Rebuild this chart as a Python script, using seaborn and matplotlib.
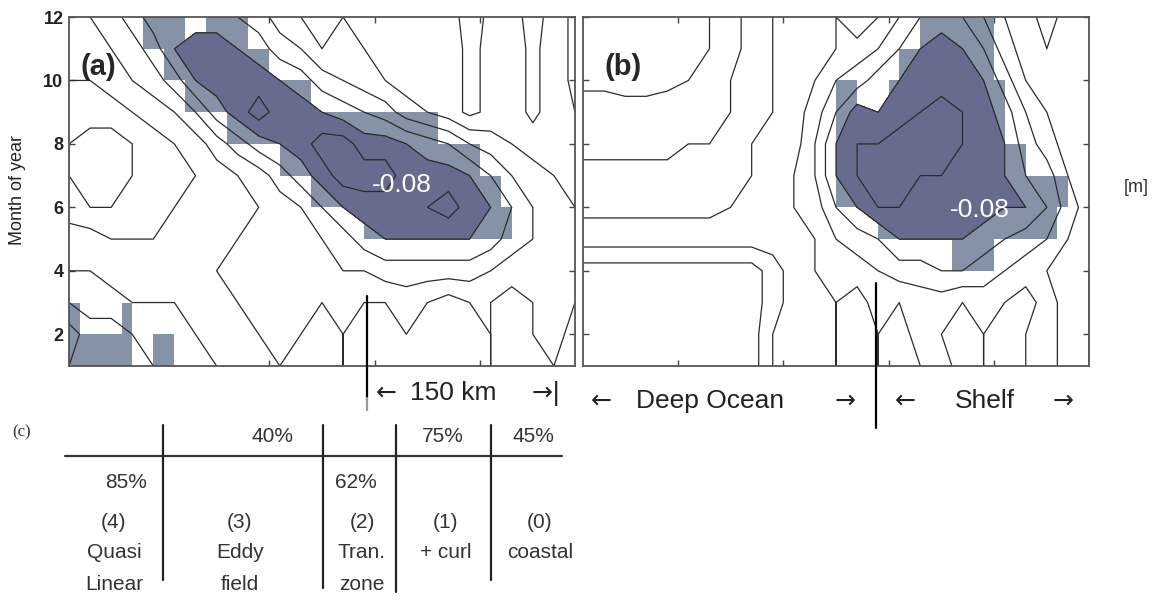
import numpy as np
import matplotlib
matplotlib.use("Agg")
import matplotlib.pyplot as plt
from matplotlib.colors import ListedColormap
import seaborn as sns

sns.set_theme(style="white")
plt.rcParams['font.family'] = ['Liberation Sans', 'DejaVu Sans']

W, H = 1157, 601

months = np.arange(1, 13)           # rows of the field, month of year
xgrid = np.arange(0, 49, 2)         # cross-shelf grid points
n_cells = 48                        # significance mask cells across each panel
levels = [-0.08, -0.06, -0.04, -0.02, 0.0, 0.02, 0.04]
ytick_months = [2, 4, 6, 8, 10, 12]

# sea level anomaly [cm], rows = months 1..12, cols = xgrid
field_a = [
    [-4, -3, -3, -2, -2, -1, -1, 0, 1, 1, 0, 1, 1, 0, 1, 2, 1, 1, 2, 1, 0, 1, 1, 0, 1],
    [-5, -3, -3, -2, -1, -1, 0, 1, 1, 0, 0, 0, 1, 0, 1, 1, 0, 1, 2, 1, 0, 1, 0, -1, 1],
    [-2, -1, -1, 0, 0, 0, 1, 1, 0, 0, -1, -1, 0, -1, 0, 0, -1, 0, 1, 0, 0, 1, 0, -1, 0],
    [0, 0, 1, 1, 1, 1, 1, 0, 0, -1, -2, -1, -1, -2, -2, -3, -3, -3, -3, -3, -2, -1, -1, -1, -1],
    [1, 1, 2, 2, 2, 1, 1, 1, 0, 0, 0, -1, -2, -3, -5, -6, -6, -6, -6, -6, -5, -3, -2, -1, -1],
    [3, 4, 4, 3, 3, 2, 2, 1, 1, 0, -1, -2, -4, -6, -7, -7, -7, -8, -9, -7, -6, -4, -2, -1, 0],
    [4, 5, 5, 4, 3, 3, 2, 1, 0, -1, -3, -5, -7, -9, -9, -9, -7, -7, -7, -6, -4, -2, -1, 0, 1],
    [4, 5, 5, 4, 3, 2, 1, -1, -3, -5, -6, -7, -9, -9, -7, -7, -6, -5, -4, -2, -1, 0, 1, 1, 2],
    [3, 3, 3, 2, 1, 0, -2, -5, -7, -9, -7, -7, -6, -5, -4, -3, -1, 0, 1, 2.5, 1.5, 1, 2.5, 1, 2],
    [2, 2, 1, 0, -1, -3, -6, -7, -7, -7, -6, -5, -3, -2, -1, 0, 1, 2, 1, 2.5, 1.5, 1, 2.5, 1, 2.5],
    [0, 1, 0, -1, -3, -6, -7, -7, -6, -5, -3, -2, 0, -1, 0, 1, 2, 1, 1, 2.5, 1.5, 1, 2.5, 1, 2.5],
    [1, 0, -1, -3, -5, -5, -5, -5, -4, -3, -1, 0, 1, 0, 1, 2, 1, 2, 1, 3, 1.5, 1, 3, 1, 2.5],
]

field_b = [
    [5, 5, 5, 5, 5, 5, 5, 5, 5, 2, 0, 2, 0, 1, 0, 1, 0, -1, 1, 0, 1, 0, -1, 1, 0],
    [5, 5, 5, 5, 5, 5, 5, 5, 5, 2, 1, 2, 0, 1, 0, 1, -1, 0, 1, 0, 1, 0, -1, 1, 0],
    [5, 5, 5, 5, 5, 5, 5, 5, 5, 3, 1, 2, 0, 1, -1, 0, -1, -1, 0, -1, 0, 1, -1, 1, 0],
    [5, 5, 5, 5, 5, 5, 5, 5, 5, 3, 1, 0, -1, -1, -2, -3, -3, -4, -4, -3, -2, -1, 0, 1, 0],
    [1, 1, 1, 1, 1, 1, 1, 1, 1, 1, 1, 0, -2, -3, -4, -6, -6, -6, -6, -5, -4, -3, -2, 0, 1],
    [-0.5, -0.5, -0.5, -0.5, -0.5, -0.5, -0.5, 0, 1, 1, 0, -1, -4, -6, -8, -8, -7, -7, -6, -7, -6, -6, -4, -1, 1],
    [-1.5, -1.5, -1.5, -1.5, -1.5, -1.5, -1, 0, 0, 1, 0, -2, -6, -8, -9, -8, -8, -8, -7, -7, -6, -4, -3, 0, 1],
    [-2.5, -2.5, -2.5, -2.5, -2.5, -2, -2, -1, 0, 1, 1, -2, -6, -8, -8, -9, -9, -9, -8, -7, -6, -3, -1, 1, 2],
    [-3, -3, -3, -3, -3, -3, -2, -2, -1, 0, 1, -1, -4, -7, -6, -7, -8, -9, -8, -7, -5, -2, 0, 1, 2],
    [-4.5, -4.5, -5, -5, -4.5, -4, -3, -2, -1, 0, 1, 0, -2, -3, -5, -6, -7, -7, -7, -6, -3, 0, 2, 1, 2],
    [-5, -5, -5, -5, -5, -4.5, -4, -3, -1, 0, 1, 1, 0, -1, -2, -4, -6, -7, -6, -4, -1, 1, 2, 1, 2],
    [-4.5, -5, -5, -5, -4.5, -4, -4, -3, -1, 0, 1, 1, 0, 2, 0, -2, -4, -5, -4, -2, 0, 1, 3, 1, 2],
]

# significant cells: lower month of the row -> [start, end) cell spans
shade_a = {11: [(7, 11), (13, 17)], 10: [(9, 19)], 9: [(11, 23)], 8: [(15, 35)],
           7: [(20, 39)], 6: [(23, 41)], 5: [(28, 42)], 2: [(0, 1), (5, 6)],
           1: [(0, 6), (8, 10)]}
shade_b = {11: [(32, 39)], 10: [(30, 39)], 9: [(24, 26), (29, 40)], 8: [(24, 40)],
           7: [(24, 42)], 6: [(24, 46)], 5: [(28, 45)], 4: [(35, 39)]}

pct_top = ["40%", "75%", "45%"]
pct_bottom = ["85%", "62%"]
regimes = [["(4)", "Quasi", "Linear"], ["(3)", "Eddy", "field"], ["(2)", "Tran.", "zone"],
           ["(1)", "+ curl"], ["(0)", "coastal"]]


def build_mask(spans):
    m = np.zeros((11, n_cells), dtype=bool)
    for lo, segs in spans.items():
        for s, e in segs:
            m[12 - lo - 1, s:e] = True
    return m


def fpx(x0, y0, x1, y1):
    return [x0 / W, 1 - y1 / H, (x1 - x0) / W, (y1 - y0) / H]


fig = plt.figure(figsize=(W / 100, H / 100), dpi=100)
ax_a = fig.add_axes(fpx(69, 17, 575, 366))
ax_b = fig.add_axes(fpx(583, 17, 1089, 366))

for ax, field, spans in [(ax_a, field_a, shade_a), (ax_b, field_b, shade_b)]:
    mask = build_mask(spans)
    sns.heatmap(mask.astype(float), mask=~mask, cmap=ListedColormap(["#8592a7"]),
                cbar=False, ax=ax, xticklabels=False, yticklabels=False)
    z = np.array(field, dtype=float) / 100.0
    yy = 12 - months
    ax.contourf(xgrid, yy, z, levels=[-1, -0.06], colors=["#676c8f"])
    ax.contour(xgrid, yy, z, levels=levels, colors="#2b2b2b", linewidths=0.9,
               linestyles="solid")
    ax.set_xlim(0, n_cells)
    ax.set_ylim(11, 0)
    ax.set_yticks([12 - m for m in ytick_months])
    ax.set_xticks([9, 19, 29, 39])
    ax.set_xticklabels([])
    ax.tick_params(direction="in", length=4, width=1, top=True, right=True,
                   left=True, bottom=True, color="#444", pad=4)
    for sp in ax.spines.values():
        sp.set_visible(True)
        sp.set_color("#555555")
        sp.set_linewidth(1.3)

ax_a.set_yticklabels([str(m) for m in ytick_months], fontsize=13, fontweight="bold",
                     color="#222")
ax_b.set_yticklabels([])

ov = fig.add_axes([0, 0, 1, 1], zorder=5)
ov.set_xlim(0, W)
ov.set_ylim(H, 0)
ov.axis("off")
ov.patch.set_alpha(0)

ov.text(18, 190, "Month of year", rotation=90, fontsize=13, ha="center", va="center",
        color="#222")
ov.text(1136, 188, "[m]", fontsize=13, ha="center", va="center", color="#333")
ov.text(80, 67, "(a)", fontsize=21, fontweight="bold", ha="left", va="center")
ov.text(605, 67, "(b)", fontsize=21, fontweight="bold", ha="left", va="center")
ov.text(402, 185, "-0.08", fontsize=19, color="white", ha="center", va="center")
ov.text(980, 210, "-0.08", fontsize=19, color="white", ha="center", va="center")

# boundary markers
ov.plot([367, 367], [296, 398], color="black", lw=1.6)
ov.plot([367, 367], [398, 410], color="#999", lw=1.6)
ov.plot([876, 876], [283, 428], color="black", lw=1.6)

tx = dict(fontsize=19, ha="center", va="center", color="#222")
arr = dict(tx, family=["DejaVu Sans"], fontsize=18)
ov.text(386, 393, "\u2190", **arr)
ov.text(453, 393, "150 km", **tx)
ov.text(546, 393, "\u2192|", **arr)
ov.text(601, 401, "\u2190", **arr)
ov.text(710, 401, "Deep Ocean", **tx)
ov.text(845, 401, "\u2192", **arr)
ov.text(905, 401, "\u2190", **arr)
ov.text(985, 401, "Shelf", **tx)
ov.text(1063, 401, "\u2192", **arr)

# (c) regime table
ov.text(22, 432, "(c)", fontsize=12, family=["Liberation Serif", "DejaVu Serif"],
        ha="center", va="center", color="#333")
ov.plot([65, 562], [456, 456], color="#333", lw=1.6)
for x, y1 in zip([163, 323, 396, 491], [580, 588, 592, 580]):
    ov.plot([x, x], [425, y1], color="#222", lw=1.6)
for x, s in zip([273, 443, 533], pct_top):
    ov.text(x, 437, s, fontsize=15, ha="center", va="center", color="#333")
for x, s in zip([126, 356], pct_bottom):
    ov.text(x, 482, s, fontsize=15, ha="center", va="center", color="#333")
for x, lines in zip([114, 240, 362, 446, 540], regimes):
    for k, s in enumerate(lines):
        ov.text(x, 522 + 31 * k, s, fontsize=15, ha="center", va="center", color="#333")

fig.savefig("out.png", dpi=100)
